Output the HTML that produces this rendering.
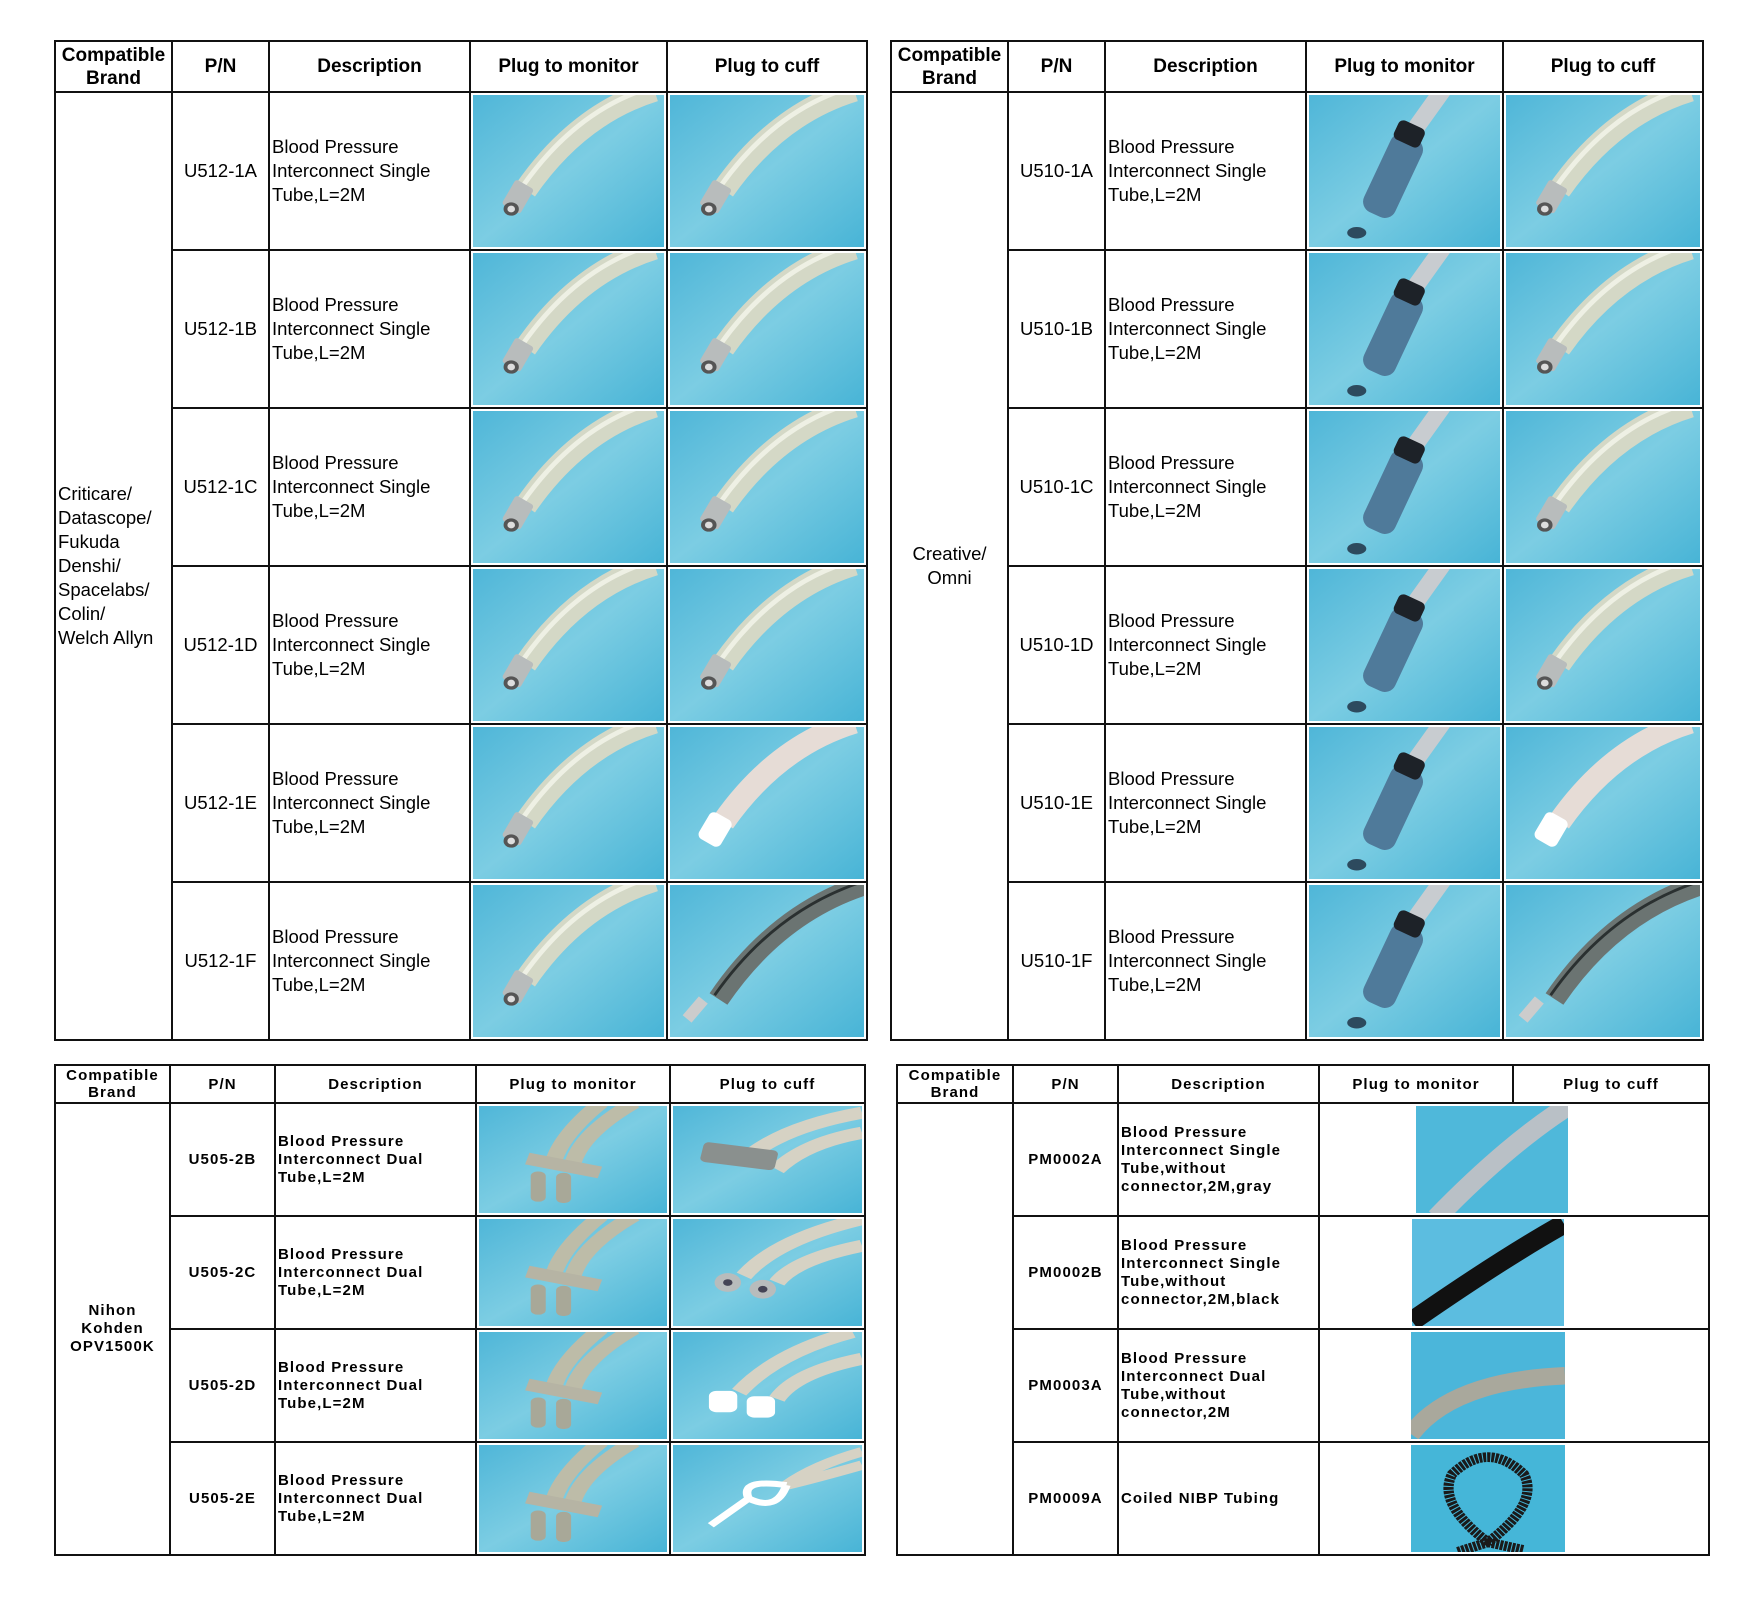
<!DOCTYPE html>
<html><head><meta charset="utf-8"><style>
body{margin:0;width:1750px;height:1607px;background:#fff;position:relative;overflow:hidden;font-family:"Liberation Sans",Arial,sans-serif;}
table{position:absolute;border-collapse:collapse;table-layout:fixed;}
td,th{border:2px solid #111;padding:0;color:#000;}
.big th{font-size:19px;font-weight:bold;line-height:23px;}
.big td{font-size:18.5px;line-height:24px;}
.sm th{font-size:15px;font-weight:bold;line-height:17px;letter-spacing:1.1px;}
.sm td{font-size:15px;font-weight:bold;line-height:18px;letter-spacing:1.1px;}
td.d{text-align:left;padding-left:2px;}
td.c{text-align:center;}
td.im{padding:2px;overflow:hidden;}
.big td.im svg{display:block;width:100%;height:152px;}
.sm td.im svg{display:block;width:100%;height:107px;}
</style></head><body>
<svg width="0" height="0" style="position:absolute">
<defs>
<linearGradient id="bg" x1="0" y1="0" x2="1" y2="1"><stop offset="0" stop-color="#4fb6d8"/><stop offset="0.5" stop-color="#7ccde3"/><stop offset="1" stop-color="#48b4d6"/></linearGradient>
<symbol id="tA" viewBox="0 0 200 160" preserveAspectRatio="none"><rect width="200" height="160" fill="url(#bg)"/><path d="M190 -5 Q110 20 55 100" stroke="#d4d8c6" stroke-width="24" fill="none"/><path d="M186 -8 Q108 16 52 96" stroke="#eef0e4" stroke-width="5" fill="none"/><rect x="36" y="92" width="22" height="30" rx="3" fill="#b8bcbc" transform="rotate(30 47 107)"/><ellipse cx="40" cy="120" rx="8" ry="7" fill="#555"/><ellipse cx="40" cy="120" rx="4" ry="3.5" fill="#ddd"/></symbol>
<symbol id="tW" viewBox="0 0 200 160" preserveAspectRatio="none"><rect width="200" height="160" fill="url(#bg)"/><path d="M190 -5 Q110 20 55 100" stroke="#e6dcd6" stroke-width="24" fill="none"/><rect x="34" y="92" width="26" height="32" rx="6" fill="#fff" transform="rotate(30 47 107)"/></symbol>
<symbol id="tF" viewBox="0 0 200 160" preserveAspectRatio="none"><rect width="200" height="160" fill="url(#bg)"/><path d="M200 0 Q110 30 50 120" stroke="#6b7472" stroke-width="22" fill="none"/><path d="M200 -4 Q108 26 46 116" stroke="#2a3030" stroke-width="3" fill="none"/><rect x="20" y="118" width="12" height="26" fill="#ccc" transform="rotate(40 26 131)"/></symbol>
<symbol id="tB" viewBox="0 0 200 160" preserveAspectRatio="none"><rect width="200" height="160" fill="url(#bg)"/><path d="M140 -5 L108 40" stroke="#c8ccd0" stroke-width="18" fill="none"/><rect x="70" y="40" width="36" height="90" rx="12" fill="#4f7a9a" transform="rotate(25 88 85)"/><rect x="90" y="30" width="30" height="22" rx="6" fill="#1d2228" transform="rotate(25 105 41)"/><ellipse cx="50" cy="145" rx="10" ry="6" fill="#2d4a5e"/></symbol>
<symbol id="tD" viewBox="0 0 200 160" preserveAspectRatio="none"><rect width="200" height="160" fill="url(#bg)"/><path d="M130 -5 Q90 40 80 80 M165 -5 Q110 40 100 85" stroke="#bdbca8" stroke-width="18" fill="none"/><rect x="50" y="80" width="80" height="18" fill="#b6b4a4" transform="rotate(15 90 89)"/><rect x="55" y="98" width="16" height="45" rx="7" fill="#a8a898"/><rect x="82" y="100" width="16" height="45" rx="7" fill="#a8a898"/></symbol>
<symbol id="tDc" viewBox="0 0 200 160" preserveAspectRatio="none"><rect width="200" height="160" fill="url(#bg)"/><path d="M200 10 Q120 30 80 75 M200 40 Q140 55 110 95" stroke="#d6d2c4" stroke-width="18" fill="none"/><rect x="30" y="60" width="80" height="30" rx="6" fill="#8a908e" transform="rotate(10 70 75)"/></symbol>
<symbol id="tDm" viewBox="0 0 200 160" preserveAspectRatio="none"><rect width="200" height="160" fill="url(#bg)"/><path d="M200 0 Q110 30 75 85 M200 40 Q130 60 110 95" stroke="#d6d2c4" stroke-width="18" fill="none"/><circle cx="58" cy="95" r="14" fill="#b8bcbc"/><circle cx="95" cy="105" r="14" fill="#b8bcbc"/><circle cx="58" cy="95" r="5" fill="#445"/><circle cx="95" cy="105" r="5" fill="#445"/></symbol>
<symbol id="tDw" viewBox="0 0 200 160" preserveAspectRatio="none"><rect width="200" height="160" fill="url(#bg)"/><path d="M190 0 Q110 30 70 90 M200 40 Q130 60 110 100" stroke="#d6d2c4" stroke-width="18" fill="none"/><rect x="38" y="88" width="30" height="32" rx="8" fill="#fff"/><rect x="78" y="96" width="30" height="32" rx="8" fill="#fff"/></symbol>
<symbol id="tDe" viewBox="0 0 200 160" preserveAspectRatio="none"><rect width="200" height="160" fill="url(#bg)"/><path d="M200 10 Q150 30 120 60 M200 30 Q150 50 120 60" stroke="#d6d2c4" stroke-width="14" fill="none"/><path d="M120 60 Q70 50 80 80 Q110 100 120 60 M80 80 L40 120" stroke="#fff" stroke-width="9" fill="none"/></symbol>
<symbol id="pG" viewBox="0 0 150 110" preserveAspectRatio="none"><rect width="150" height="110" fill="#4fb8da"/><path d="M150 0 Q90 40 20 115" stroke="#b9c0c6" stroke-width="20" fill="none"/></symbol>
<symbol id="pB" viewBox="0 0 150 110" preserveAspectRatio="none"><rect width="150" height="110" fill="#5cbde0"/><path d="M150 5 Q90 40 0 105" stroke="#111" stroke-width="20" fill="none"/></symbol>
<symbol id="pD" viewBox="0 0 150 110" preserveAspectRatio="none"><rect width="150" height="110" fill="#4bb6da"/><path d="M150 45 Q40 50 0 105" stroke="#a9a89c" stroke-width="18" fill="none"/></symbol>
<symbol id="pC" viewBox="0 0 150 110" preserveAspectRatio="none"><rect width="150" height="110" fill="#45b6d8"/><path d="M75 100 Q25 60 40 30 Q75 -5 110 30 Q125 60 75 100 M75 100 L45 110 M75 100 L110 108" stroke="#1a1a1a" stroke-width="10" stroke-dasharray="3 1" fill="none"/></symbol>
</defs></svg>

<table class="big" style="left:54px;top:40px;width:812px">
<colgroup><col style="width:117px"><col style="width:97px"><col style="width:201px"><col style="width:197px"><col style="width:200px"></colgroup>
<tr style="height:51px"><th>Compatible Brand</th><th>P/N</th><th>Description</th><th>Plug to monitor</th><th>Plug to cuff</th></tr>
<tr style="height:158px"><td rowspan="6" class="d">Criticare/<br>Datascope/<br>Fukuda<br>Denshi/<br>Spacelabs/<br>Colin/<br>Welch Allyn</td><td class="c">U512-1A</td><td class="d">Blood Pressure<br>Interconnect Single<br>Tube,L=2M</td><td class="im"><svg><use href="#tA"/></svg></td><td class="im"><svg><use href="#tA"/></svg></td></tr>
<tr style="height:158px"><td class="c">U512-1B</td><td class="d">Blood Pressure<br>Interconnect Single<br>Tube,L=2M</td><td class="im"><svg><use href="#tA"/></svg></td><td class="im"><svg><use href="#tA"/></svg></td></tr>
<tr style="height:158px"><td class="c">U512-1C</td><td class="d">Blood Pressure<br>Interconnect Single<br>Tube,L=2M</td><td class="im"><svg><use href="#tA"/></svg></td><td class="im"><svg><use href="#tA"/></svg></td></tr>
<tr style="height:158px"><td class="c">U512-1D</td><td class="d">Blood Pressure<br>Interconnect Single<br>Tube,L=2M</td><td class="im"><svg><use href="#tA"/></svg></td><td class="im"><svg><use href="#tA"/></svg></td></tr>
<tr style="height:158px"><td class="c">U512-1E</td><td class="d">Blood Pressure<br>Interconnect Single<br>Tube,L=2M</td><td class="im"><svg><use href="#tA"/></svg></td><td class="im"><svg><use href="#tW"/></svg></td></tr>
<tr style="height:158px"><td class="c">U512-1F</td><td class="d">Blood Pressure<br>Interconnect Single<br>Tube,L=2M</td><td class="im"><svg><use href="#tA"/></svg></td><td class="im"><svg><use href="#tF"/></svg></td></tr>
</table>

<table class="big" style="left:890px;top:40px;width:812px">
<colgroup><col style="width:117px"><col style="width:97px"><col style="width:201px"><col style="width:197px"><col style="width:200px"></colgroup>
<tr style="height:51px"><th>Compatible Brand</th><th>P/N</th><th>Description</th><th>Plug to monitor</th><th>Plug to cuff</th></tr>
<tr style="height:158px"><td rowspan="6" class="c">Creative/<br>Omni</td><td class="c">U510-1A</td><td class="d">Blood Pressure<br>Interconnect Single<br>Tube,L=2M</td><td class="im"><svg><use href="#tB"/></svg></td><td class="im"><svg><use href="#tA"/></svg></td></tr>
<tr style="height:158px"><td class="c">U510-1B</td><td class="d">Blood Pressure<br>Interconnect Single<br>Tube,L=2M</td><td class="im"><svg><use href="#tB"/></svg></td><td class="im"><svg><use href="#tA"/></svg></td></tr>
<tr style="height:158px"><td class="c">U510-1C</td><td class="d">Blood Pressure<br>Interconnect Single<br>Tube,L=2M</td><td class="im"><svg><use href="#tB"/></svg></td><td class="im"><svg><use href="#tA"/></svg></td></tr>
<tr style="height:158px"><td class="c">U510-1D</td><td class="d">Blood Pressure<br>Interconnect Single<br>Tube,L=2M</td><td class="im"><svg><use href="#tB"/></svg></td><td class="im"><svg><use href="#tA"/></svg></td></tr>
<tr style="height:158px"><td class="c">U510-1E</td><td class="d">Blood Pressure<br>Interconnect Single<br>Tube,L=2M</td><td class="im"><svg><use href="#tB"/></svg></td><td class="im"><svg><use href="#tW"/></svg></td></tr>
<tr style="height:158px"><td class="c">U510-1F</td><td class="d">Blood Pressure<br>Interconnect Single<br>Tube,L=2M</td><td class="im"><svg><use href="#tB"/></svg></td><td class="im"><svg><use href="#tF"/></svg></td></tr>
</table>

<table class="sm" style="left:54px;top:1064px;width:810px">
<colgroup><col style="width:115px"><col style="width:105px"><col style="width:201px"><col style="width:194px"><col style="width:195px"></colgroup>
<tr style="height:38px"><th>Compatible<br>Brand</th><th>P/N</th><th>Description</th><th>Plug to monitor</th><th>Plug to cuff</th></tr>
<tr style="height:113px"><td rowspan="4" class="c">Nihon<br>Kohden<br>OPV1500K</td><td class="c">U505-2B</td><td class="d">Blood Pressure<br>Interconnect Dual<br>Tube,L=2M</td><td class="im"><svg><use href="#tD"/></svg></td><td class="im"><svg><use href="#tDc"/></svg></td></tr>
<tr style="height:113px"><td class="c">U505-2C</td><td class="d">Blood Pressure<br>Interconnect Dual<br>Tube,L=2M</td><td class="im"><svg><use href="#tD"/></svg></td><td class="im"><svg><use href="#tDm"/></svg></td></tr>
<tr style="height:113px"><td class="c">U505-2D</td><td class="d">Blood Pressure<br>Interconnect Dual<br>Tube,L=2M</td><td class="im"><svg><use href="#tD"/></svg></td><td class="im"><svg><use href="#tDw"/></svg></td></tr>
<tr style="height:113px"><td class="c">U505-2E</td><td class="d">Blood Pressure<br>Interconnect Dual<br>Tube,L=2M</td><td class="im"><svg><use href="#tD"/></svg></td><td class="im"><svg><use href="#tDe"/></svg></td></tr>
</table>

<table class="sm" style="left:896px;top:1064px;width:812px">
<colgroup><col style="width:116px"><col style="width:105px"><col style="width:201px"><col style="width:194px"><col style="width:196px"></colgroup>
<tr style="height:38px"><th>Compatible<br>Brand</th><th>P/N</th><th>Description</th><th>Plug to monitor</th><th>Plug to cuff</th></tr>
<tr style="height:113px"><td rowspan="4"></td><td class="c">PM0002A</td><td class="d">Blood Pressure<br>Interconnect Single<br>Tube,without<br>connector,2M,gray</td><td colspan="2" style="padding:2px 0"><svg style="display:block;margin-left:96px;width:152px;height:107px"><use href="#pG"/></svg></td></tr>
<tr style="height:113px"><td class="c">PM0002B</td><td class="d">Blood Pressure<br>Interconnect Single<br>Tube,without<br>connector,2M,black</td><td colspan="2" style="padding:2px 0"><svg style="display:block;margin-left:92px;width:152px;height:107px"><use href="#pB"/></svg></td></tr>
<tr style="height:113px"><td class="c">PM0003A</td><td class="d">Blood Pressure<br>Interconnect Dual<br>Tube,without<br>connector,2M</td><td colspan="2" style="padding:2px 0"><svg style="display:block;margin-left:91px;width:154px;height:107px"><use href="#pD"/></svg></td></tr>
<tr style="height:113px"><td class="c">PM0009A</td><td class="d">Coiled NIBP Tubing</td><td colspan="2" style="padding:2px 0"><svg style="display:block;margin-left:91px;width:154px;height:107px"><use href="#pC"/></svg></td></tr>
</table>
</body></html>
